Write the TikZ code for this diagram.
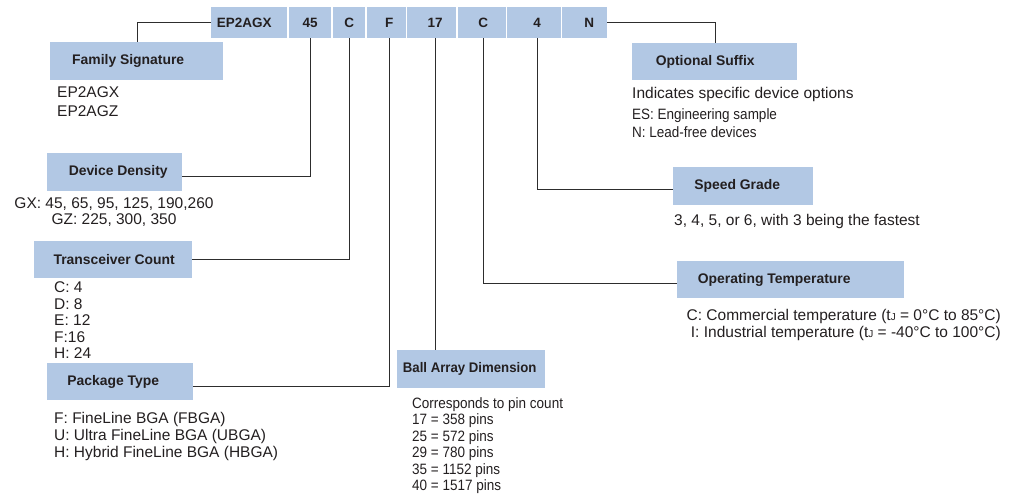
\documentclass[tikz,border=0pt]{standalone}
\usepackage{fontspec}
\setmainfont{Liberation Sans}
\newfontfamily\narrowfont[FakeStretch=0.9]{Liberation Sans}
\newfontfamily\narrowbold[FakeStretch=0.95]{Liberation Sans Bold}
\definecolor{boxblue}{RGB}{178,200,228}
\definecolor{ink}{RGB}{35,31,32}
\definecolor{wirecol}{RGB}{45,45,45}
\tikzset{
  codebox/.style={fill=boxblue, anchor=north west, minimum height=31pt, inner sep=0pt,
    font=\fontsize{13.5}{15}\selectfont\bfseries, text=ink},
  catbox/.style={fill=boxblue, anchor=north west, minimum height=38pt, inner sep=0pt,
    font=\fontsize{13.9}{16}\selectfont\bfseries, text=ink},
  desc/.style={anchor=north west, inner sep=0pt, align=left, text=ink},
  wire/.style={draw=wirecol, line width=1pt}
}
\begin{document}
\begin{tikzpicture}[x=1pt,y=-1pt]
\useasboundingbox (0,0) rectangle (1010,494);
% code row
\node[codebox, minimum width=76pt] (t1) at (211,7) {\hspace*{-10pt}EP2AGX};
\node[codebox, minimum width=42pt] (t2) at (289,7) {45};
\node[codebox, minimum width=32pt] (t3) at (333,7) {C};
\node[codebox, minimum width=39pt] (t4) at (367,7) {\hspace*{5pt}F};
\node[codebox, minimum width=49pt] (t5) at (407,7) {\hspace*{7pt}17};
\node[codebox, minimum width=48pt] (t6) at (458,7) {\hspace*{2pt}C};
\node[codebox, minimum width=54pt] (t7) at (507,7) {\hspace*{6pt}4};
\node[codebox, minimum width=45pt] (t8) at (562,7) {\hspace*{9pt}N};
% category boxes
\node[catbox, minimum width=173pt] (fam) at (50,42) {\hspace*{-17pt}Family Signature};
\node[catbox, minimum width=135pt] (dens) at (47,153) {\hspace*{7pt}Device Density};
\node[catbox, minimum width=158pt, minimum height=37pt] (trans) at (34,241) {\hspace*{2pt}Transceiver Count};
\node[catbox, minimum width=146pt, minimum height=37pt] (pkg) at (47,363) {\hspace*{-14pt}Package Type};
\node[catbox, minimum width=148pt, font=\fontsize{13.9}{16}\selectfont\narrowbold] (ball) at (397,350) {\hspace*{-3pt}Ball Array Dimension};
\node[catbox, minimum width=165pt, minimum height=37pt] (opt) at (632,43) {\hspace*{-19pt}Optional Suffix};
\node[catbox, minimum width=140pt] (speed) at (673,167) {\hspace*{-12pt}Speed Grade};
\node[catbox, minimum width=227pt, minimum height=37pt] (temp) at (677,261) {\hspace*{-33pt}Operating Temperature};
% descriptions
\node[desc, font=\fontsize{15.5}{19}\selectfont] (famtxt) at (57,86.5) {EP2AGX\\EP2AGZ};
\node[desc, anchor=north, align=center, font=\fontsize{15.5}{16}\selectfont] (denstxt) at (114,197.5) {GX: 45, 65, 95, 125, 190,260\\GZ: 225, 300, 350};
\node[desc, font=\fontsize{15.5}{16.5}\selectfont] (transtxt) at (54,281.5) {C: 4\\D: 8\\E: 12\\F:16\\H: 24};
\node[desc, font=\fontsize{15.5}{17}\selectfont] (pkgtxt) at (54,412.5) {F: FineLine BGA (FBGA)\\U: Ultra FineLine BGA (UBGA)\\H: Hybrid FineLine BGA (HBGA)};
\node[desc, font=\fontsize{15}{16.4}\selectfont\narrowfont] (balltxt) at (412,397.5) {Corresponds to pin count\\17 = 358 pins\\25 = 572 pins\\29 = 780 pins\\35 = 1152 pins\\40 = 1517 pins};
\node[desc, font=\fontsize{15.5}{18}\selectfont] (opttxt) at (632,87.5) {Indicates specific device options};
\node[desc, font=\fontsize{15}{18}\selectfont\narrowfont] (optlist) at (632,108.5) {ES: Engineering sample\\N: Lead-free devices};
\node[desc, font=\fontsize{15.5}{18}\selectfont] (speedtxt) at (674,214.5) {3, 4, 5, or 6, with 3 being the fastest};
\node[desc, anchor=north east, align=right, font=\fontsize{15.5}{17}\selectfont] (temptxt) at (1001,309.5)
  {C: Commercial temperature (t{\fontsize{10}{10}\selectfont J} = 0°C to 85°C)\\I: Industrial temperature (t{\fontsize{10}{10}\selectfont J} = -40°C to 100°C)};
% connectors
\draw[wire] (t1.west) -| ([xshift=87pt]fam.north west);
\draw[wire] (t8.east) -| ([xshift=83pt]opt.north west);
\draw[wire] (t2.south) |- ([yshift=-4pt]dens.east);
\draw[wire] (t3.south) |- (trans.east);
\draw[wire] ([xshift=2.5pt]t4.south) |- ([yshift=-4.5pt]pkg.east);
\draw[wire] ([xshift=3.5pt]t5.south) -- ([xshift=-36pt]ball.north);
\draw[wire] ([xshift=1pt]t6.south) |- ([yshift=-3.5pt]temp.west);
\draw[wire] ([xshift=3pt]t7.south) |- ([yshift=-3pt]speed.west);
\end{tikzpicture}
\end{document}
